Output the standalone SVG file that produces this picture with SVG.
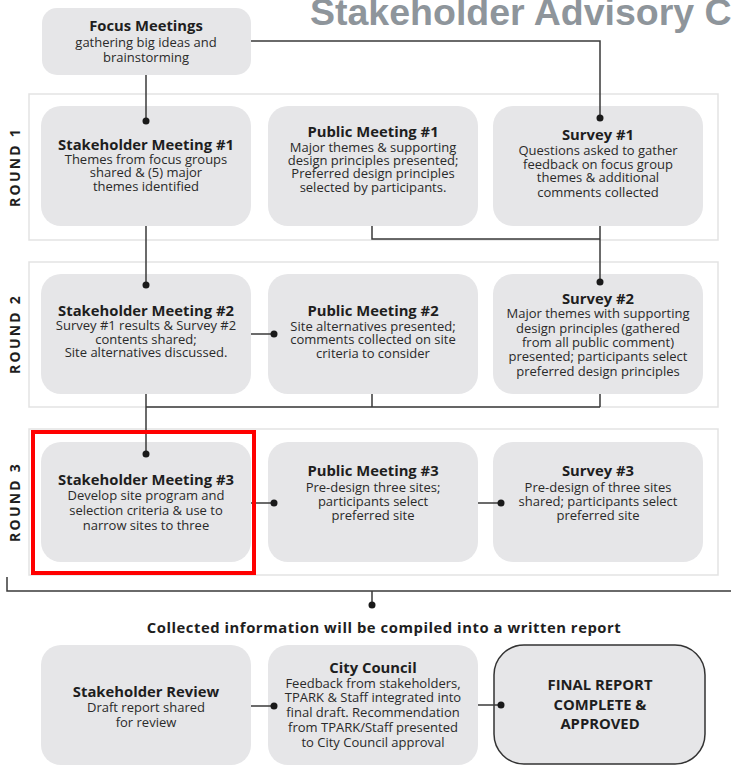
<svg xmlns="http://www.w3.org/2000/svg" width="731" height="767" viewBox="0 0 731 767">
<style>
.panel{fill:#fff;stroke:#e3e3e3;stroke-width:1.5}
.box{fill:#e6e6e8}
.t{font-family:"Open Sans","Liberation Sans",sans-serif;font-weight:700;font-size:14.8px;fill:#1e1e1e;text-anchor:middle}
.b{font-family:"Open Sans","Liberation Sans",sans-serif;font-size:13px;fill:#2a2a2a;text-anchor:middle}
.rl{font-family:"Open Sans","Liberation Sans",sans-serif;font-weight:700;font-size:14px;fill:#1e1e1e;text-anchor:middle;letter-spacing:2.2px}
.c{fill:none;stroke:#3a3a3a;stroke-width:1.5}
.d{fill:#1a1a1a}
</style>
<rect width="731" height="767" fill="#fff"/>
<text x="310" y="25" font-family="Liberation Sans, Arial, sans-serif" font-weight="700" font-size="37.5" fill="#8e959b">Stakeholder Advisory C</text>

<g id="panels">
<rect class="panel" x="29" y="94" width="689" height="146"/>
<rect class="panel" x="29" y="262" width="689" height="145"/>
<rect class="panel" x="29" y="429" width="689" height="146"/>
<text class="rl" transform="translate(20,167) rotate(-90)">ROUND 1</text>
<text class="rl" transform="translate(20,334) rotate(-90)">ROUND 2</text>
<text class="rl" transform="translate(20,502) rotate(-90)">ROUND 3</text>
</g>

<g id="focus">
<rect class="box" x="42" y="8" width="209" height="67" rx="15"/>
<text class="t" x="146" y="31" font-size="15.5">Focus Meetings</text>
<text class="b" x="146" y="47" font-size="13.5">gathering big ideas and</text>
<text class="b" x="146" y="62" font-size="13.5">brainstorming</text>
</g>

<g id="sm1">
<rect class="box" x="41" y="106" width="210" height="120" rx="20"/>
<text class="t" x="146" y="150">Stakeholder Meeting #1</text>
<text class="b" x="146" y="164">Themes from focus groups</text>
<text class="b" x="146" y="177">shared &amp; (5) major</text>
<text class="b" x="146" y="191">themes identified</text>
</g>
<g id="pm1">
<rect class="box" x="268" y="106" width="210" height="120" rx="20"/>
<text class="t" x="373" y="137">Public Meeting #1</text>
<text class="b" x="373" y="152">Major themes &amp; supporting</text>
<text class="b" x="373" y="165">design principles presented;</text>
<text class="b" x="373" y="178">Preferred design principles</text>
<text class="b" x="373" y="192">selected by participants.</text>
</g>
<g id="s1">
<rect class="box" x="493" y="106" width="210" height="120" rx="20"/>
<text class="t" x="598" y="140">Survey #1</text>
<text class="b" x="598" y="155">Questions asked to gather</text>
<text class="b" x="598" y="169">feedback on focus group</text>
<text class="b" x="598" y="182">themes &amp; additional</text>
<text class="b" x="598" y="197">comments collected</text>
</g>

<g id="sm2">
<rect class="box" x="41" y="274" width="210" height="120" rx="20"/>
<text class="t" x="146" y="316">Stakeholder Meeting #2</text>
<text class="b" x="146" y="330">Survey #1 results &amp; Survey #2</text>
<text class="b" x="146" y="344">contents shared;</text>
<text class="b" x="146" y="357">Site alternatives discussed.</text>
</g>
<g id="pm2">
<rect class="box" x="268" y="274" width="210" height="120" rx="20"/>
<text class="t" x="373" y="316">Public Meeting #2</text>
<text class="b" x="373" y="331">Site alternatives presented;</text>
<text class="b" x="373" y="344">comments collected on site</text>
<text class="b" x="373" y="358">criteria to consider</text>
</g>
<g id="s2">
<rect class="box" x="493" y="274" width="210" height="120" rx="20"/>
<text class="t" x="598" y="304">Survey #2</text>
<text class="b" x="598" y="318">Major themes with supporting</text>
<text class="b" x="598" y="333">design principles (gathered</text>
<text class="b" x="598" y="347">from all public comment)</text>
<text class="b" x="598" y="361">presented; participants select</text>
<text class="b" x="598" y="376">preferred design principles</text>
</g>

<g id="sm3">
<rect class="box" x="41" y="442" width="210" height="120" rx="20"/>
<text class="t" x="146" y="485">Stakeholder Meeting #3</text>
<text class="b" x="146" y="500">Develop site program and</text>
<text class="b" x="146" y="515">selection criteria &amp; use to</text>
<text class="b" x="146" y="530">narrow sites to three</text>
</g>
<g id="pm3">
<rect class="box" x="268" y="442" width="210" height="120" rx="20"/>
<text class="t" x="373" y="476">Public Meeting #3</text>
<text class="b" x="373" y="492">Pre-design three sites;</text>
<text class="b" x="373" y="506">participants select</text>
<text class="b" x="373" y="520">preferred site</text>
</g>
<g id="s3">
<rect class="box" x="493" y="442" width="210" height="120" rx="20"/>
<text class="t" x="598" y="476">Survey #3</text>
<text class="b" x="598" y="492">Pre-design of three sites</text>
<text class="b" x="598" y="506">shared; participants select</text>
<text class="b" x="598" y="520">preferred site</text>
</g>

<text class="t" x="384" y="633" font-size="16.5" letter-spacing="0.55">Collected information will be compiled into a written report</text>

<g id="sr">
<rect class="box" x="41" y="645" width="210" height="120" rx="20"/>
<text class="t" x="146" y="697">Stakeholder Review</text>
<text class="b" x="146" y="712">Draft report shared</text>
<text class="b" x="146" y="727">for review</text>
</g>
<g id="cc">
<rect class="box" x="268" y="645" width="210" height="120" rx="20"/>
<text class="t" x="373" y="673">City Council</text>
<text class="b" x="373" y="688">Feedback from stakeholders,</text>
<text class="b" x="373" y="702">TPARK &amp; Staff integrated into</text>
<text class="b" x="373" y="717">final draft. Recommendation</text>
<text class="b" x="373" y="732">from TPARK/Staff presented</text>
<text class="b" x="373" y="747">to City Council approval</text>
</g>
<g id="final">
<rect x="494" y="645" width="211" height="119" rx="30" fill="#e6e6e8" stroke="#333" stroke-width="1.5"/>
<text class="t" x="600" y="690" font-size="15.5">FINAL REPORT</text>
<text class="t" x="600" y="710" font-size="15.5">COMPLETE &amp;</text>
<text class="t" x="600" y="729" font-size="15.5">APPROVED</text>
</g>

<g id="connectors">
<path class="c" d="M146 75V121"/>
<path class="c" d="M251 41H600V118"/>
<path class="c" d="M146 226V285"/>
<path class="c" d="M372 226V239H600"/>
<path class="c" d="M600 226V282"/>
<path class="c" d="M251 334H274"/>
<path class="c" d="M146 394V454"/>
<path class="c" d="M372 394V407M600 394V407M146 407H600"/>
<path class="c" d="M251 503H274"/>
<path class="c" d="M478 503H501"/>
<path class="c" d="M7 577V591H731M372 591V605"/>
<path class="c" d="M251 706H274"/>
<path class="c" d="M478 705H501"/>
<circle class="d" cx="146" cy="121" r="3.5"/>
<circle class="d" cx="600" cy="118" r="3.5"/>
<circle class="d" cx="146" cy="285" r="3.5"/>
<circle class="d" cx="600" cy="282" r="3.5"/>
<circle class="d" cx="274" cy="334" r="3.5"/>
<circle class="d" cx="146" cy="454" r="3.5"/>
<circle class="d" cx="274" cy="503" r="3.5"/>
<circle class="d" cx="501" cy="503" r="3.5"/>
<circle class="d" cx="372" cy="605" r="3.5"/>
<circle class="d" cx="274" cy="706" r="3.5"/>
<circle class="d" cx="501" cy="705" r="3.5"/>
</g>

<g id="highlight">
<rect x="33" y="432" width="221" height="141" fill="none" stroke="#ff0000" stroke-width="4"/>
</g>
</svg>
